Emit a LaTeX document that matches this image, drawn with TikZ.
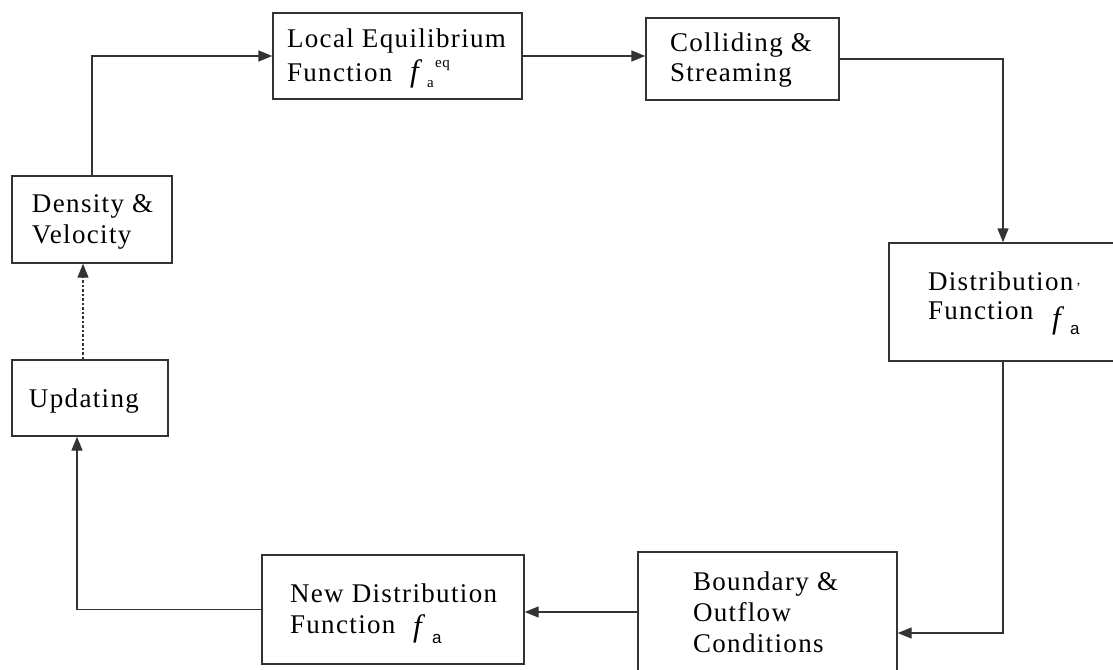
\documentclass[tikz,border=0pt]{standalone}
\usepackage{fontspec}
\setmainfont{Liberation Serif}[LetterSpace=5]
\newfontfamily\sansa{Liberation Sans}
\usetikzlibrary{arrows.meta}
% #1 width, #2 height, #3 left indent, #4 baselineskip, #5 top space, #6 text
\newcommand\tbox[6]{\parbox[c][#2][t]{#1}{\fontsize{27}{#4}\selectfont\raggedright\leftskip=#3\relax\vspace*{#5}\rule{0pt}{22pt}#6}}
\newcommand\ff[1]{\rlap{\raisebox{#1}{\fontsize{31}{31}\selectfont\itshape f}}}
\newcommand\at[3]{\rlap{\hspace{#1}\raisebox{#2}{#3}}}
\tikzset{
  box/.style={draw=black!80, line width=1.4pt, inner sep=0pt, fill=white},
  conn/.style={draw=black!80, line width=1.4pt, -{Triangle[length=14pt,width=11pt]}},
  dotconn/.style={draw=black!80, line width=1.1pt, dash pattern=on 2.5pt off 2pt, -{Triangle[length=14pt,width=11pt]}}
}
\begin{document}
\begin{tikzpicture}[x=1pt,y=-1pt]
\useasboundingbox (0,0) rectangle (1113,669);
\fill[white] (0,0) rectangle (1113,669);
\clip (0,0) rectangle (1113,669);

\node[box] (local) at (397.5,56) {\tbox{249pt}{86pt}{14pt}{34pt}{13pt}{Local Equilibrium\\
  \makebox[123pt][l]{Function}\smash{\ff{0pt}\at{17pt}{-5pt}{\fontsize{15}{15}\selectfont a}\at{25pt}{14pt}{\fontsize{15}{15}\selectfont eq}}}};

\node[box] (coll) at (742.5,59) {\tbox{193pt}{82pt}{24pt}{30pt}{12pt}{Colliding \&\\ Streaming}};

\node[box] (dist) at (1003,302) {\tbox{228pt}{118pt}{39pt}{29pt}{25pt}{Distribution\\
  \makebox[124pt][l]{Function}\smash{\ff{-9pt}\at{18pt}{-15pt}{\sansa\fontsize{17}{17}\selectfont a}\at{24pt}{27pt}{\fontsize{14}{14}\selectfont '}}}};

\node[box] (bound) at (767.5,633) {\tbox{259pt}{162pt}{55pt}{31.3pt}{16pt}{Boundary \&\\ Outflow\\ Conditions}};

\node[box] (nd) at (393,609.5) {\tbox{262pt}{109pt}{28pt}{31.6pt}{25pt}{New Distribution\\
  \makebox[123pt][l]{Function}\smash{\ff{-3pt}\at{19pt}{-10pt}{\sansa\fontsize{17}{17}\selectfont a}}}};

\node[box] (upd) at (90,398) {\tbox{156pt}{76pt}{17pt}{30pt}{25pt}{Updating}};

\node[box] (dens) at (92,219.5) {\tbox{160pt}{87pt}{20pt}{31pt}{14pt}{Density \&\\ Velocity}};

\draw[conn] (dens.north) |- (local.west);
\draw[conn] (local.east) -- (local.east -| coll.west);
\draw[conn] (coll.east) -| (dist.north);
\draw[conn] (dist.south) |- (bound.east);
\draw[conn] ([yshift=-2.5pt]bound.west |- nd.east) -- ([yshift=-2.5pt]nd.east);
\draw[conn] (nd.west) -| ([xshift=-13pt]upd.south);
\draw[dotconn] ([xshift=-7pt]upd.north) -- ([xshift=-7pt]upd.north |- dens.south);
\end{tikzpicture}
\end{document}
